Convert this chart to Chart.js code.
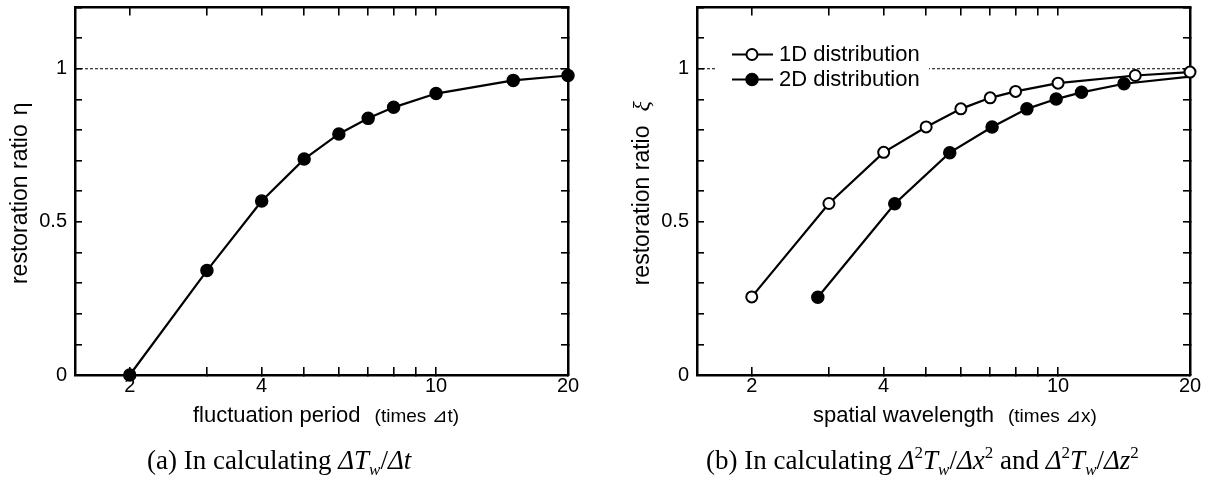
<!DOCTYPE html>
<html><head><meta charset="utf-8">
<script src="https://cdn.jsdelivr.net/npm/chart.js@4.4.1/dist/chart.umd.min.js"></script>
<style>
html,body{margin:0;padding:0;background:#fff;}
#wrap{position:relative;width:1210px;height:479px;overflow:hidden;background:#fff;}
.pane{position:absolute;top:0;width:605px;height:479px;}
.cap{position:absolute;top:444px;font-family:"Liberation Serif","Times New Roman",serif;font-size:27px;line-height:32px;color:#000;white-space:nowrap;}
.cap i{font-style:italic;}
.cap .sb{font-size:17px;position:relative;top:6px;}
.cap .sp{font-size:17px;position:relative;top:-11px;}
</style></head>
<body>
<div id="wrap">
<div class="pane" style="left:0"><canvas id="chartA"></canvas></div>
<div class="pane" style="left:605px"><canvas id="chartB"></canvas></div>
<div class="cap" style="left:147px">(a) In calculating <i>ΔT</i><span class="sb"><i>w</i></span>/<i>Δt</i></div>
<div class="cap" style="left:706px">(b) In calculating <i>Δ</i><span class="sp">2</span><i>T</i><span class="sb"><i>w</i></span>/<i>Δx</i><span class="sp">2</span> and <i>Δ</i><span class="sp">2</span><i>T</i><span class="sb"><i>w</i></span>/<i>Δz</i><span class="sp">2</span></div>
</div>
<script>
// ---------- data ----------
const periodA = [2, 3, 4, 5, 6, 7, 8, 10, 15, 20];
const etaA = [0.000, 0.341, 0.568, 0.705, 0.787, 0.838, 0.874, 0.919, 0.962, 0.978];

const wavelength1D = [2, 3, 4, 5, 6, 7, 8, 10, 15, 20];
const xi1D = [0.255, 0.560, 0.727, 0.810, 0.869, 0.905, 0.926, 0.953, 0.978, 0.989];
const wavelength2D = [2.83, 4.24, 5.66, 7.07, 8.49, 9.90, 11.31, 14.14, 21.21];
const xi2D = [0.254, 0.559, 0.726, 0.810, 0.869, 0.901, 0.923, 0.951, 0.978];

const refX = [1.5, 20];
const refY = [1, 1];

const xTickValues = [2, 3, 4, 5, 6, 7, 8, 9, 10, 20];
const xTickLabels = ['2', '', '4', '', '', '', '', '', '10', '20'];
const yTickValues = [0, 0.1, 0.2, 0.3, 0.4, 0.5, 0.6, 0.7, 0.8, 0.9, 1.0, 1.1, 1.2];
const yTickLabels = ['0', '', '', '', '', '0.5', '', '', '', '', '1', '', ''];

const legendLabels = ['1D distribution', '2D distribution'];
const xTitleA = ['fluctuation period', '(times \u22BFt)'];
const xTitleB = ['spatial wavelength', '(times \u22BFx)'];
const yTitleA = ['restoration ratio', '\u03B7'];
const yTitleB = ['restoration ratio', '\u03BE'];

// ---------- helpers ----------
const SANS = '"Liberation Sans", Arial, "DejaVu Sans", sans-serif';
const pts = (xs, ys) => xs.map((x, i) => ({x: x, y: ys[i]}));

function zeroPad(s) { s.paddingTop = 0; s.paddingBottom = 0; s.paddingLeft = 0; s.paddingRight = 0; }

function makeScales(yWidth) {
  const tickFont = {family: SANS, size: 20};
  const border = {display: true, color: '#000', width: 2.5};
  const gridX = {display: true, drawOnChartArea: false, drawTicks: true, tickLength: -8, color: '#000', lineWidth: 1.6};
  const gridY = {display: true, drawOnChartArea: false, drawTicks: true, tickLength: -7, color: '#000', lineWidth: 1.6};
  const xBuild = s => { s.ticks = xTickValues.map(v => ({value: v})); };
  const yBuild = s => { s.ticks = yTickValues.map(v => ({value: v})); };
  return {
    x: {type: 'logarithmic', position: 'bottom', min: 1.5, max: 20, display: true,
        border: border, grid: gridX, afterBuildTicks: xBuild,
        ticks: {display: true, color: '#000', font: tickFont, padding: 7, maxRotation: 0, minRotation: 0, autoSkip: false,
                callback: (v, i) => xTickLabels[i]},
        afterFit: s => { s.height = 30; zeroPad(s); }},
    x2: {type: 'logarithmic', position: 'top', min: 1.5, max: 20, display: true,
        border: border, grid: gridX, afterBuildTicks: xBuild,
        ticks: {display: false},
        afterFit: s => { s.height = 6; zeroPad(s); }},
    y: {type: 'linear', position: 'left', min: 0, max: 1.2, display: true,
        border: border, grid: gridY, afterBuildTicks: yBuild,
        ticks: {display: true, color: '#000', font: tickFont, padding: 15, autoSkip: false,
                callback: (v, i) => yTickLabels[i]},
        afterFit: s => { s.width = yWidth; zeroPad(s); }},
    y2: {type: 'linear', position: 'right', min: 0, max: 1.2, display: true,
        border: border, grid: gridY, afterBuildTicks: yBuild,
        ticks: {display: false},
        afterFit: s => { s.width = 10; zeroPad(s); }}
  };
}

const axisTitles = {
  id: 'axisTitles',
  afterDraw(chart, args, o) {
    const {ctx, chartArea: a} = chart;
    ctx.save();
    ctx.fillStyle = '#000';
    ctx.textBaseline = 'middle';
    ctx.textAlign = 'left';
    ctx.font = '22px ' + SANS;
    const w1 = ctx.measureText(o.x[0]).width;
    const x0 = a.left + o.xStart;
    const y0 = a.bottom + 41;
    ctx.fillText(o.x[0], x0, y0);
    ctx.font = '19px ' + SANS;
    ctx.fillText(o.x[1], x0 + w1 + o.gap, y0 + 1);

    ctx.translate(a.left - 54, (a.top + a.bottom) / 2 + 2);
    ctx.rotate(-Math.PI / 2);
    ctx.font = '23px ' + SANS;
    const m = ctx.measureText(o.y[0]).width;
    ctx.font = o.greekFont;
    const g = ctx.measureText(o.y[1]).width;
    const sx = -(m + o.ygap + g) / 2;
    ctx.font = '23px ' + SANS;
    ctx.fillText(o.y[0], sx, 0);
    ctx.font = o.greekFont;
    ctx.fillText(o.y[1], sx + m + o.ygap, 0);
    ctx.restore();
  }
};

const innerLegend = {
  id: 'innerLegend',
  afterDatasetsDraw(chart, args, o) {
    if (!o.show) return;
    const {ctx, chartArea: a} = chart;
    ctx.save();
    ctx.fillStyle = '#fff';
    ctx.fillRect(a.left + 20, a.top + 32, 212, 56);
    let row = 0;
    chart.data.datasets.forEach(ds => {
      if (!ds.inLegend) return;
      const y = a.top + 47 + row * 25;
      ctx.strokeStyle = '#000';
      ctx.lineWidth = 2.2;
      ctx.beginPath();
      ctx.moveTo(a.left + 35, y);
      ctx.lineTo(a.left + 76, y);
      ctx.stroke();
      ctx.beginPath();
      ctx.arc(a.left + 55, y, ds.pointRadius, 0, Math.PI * 2);
      ctx.fillStyle = ds.pointBackgroundColor;
      ctx.fill();
      ctx.lineWidth = ds.pointBorderWidth;
      ctx.strokeStyle = ds.pointBorderColor;
      ctx.stroke();
      ctx.fillStyle = '#000';
      ctx.font = '22px ' + SANS;
      ctx.textBaseline = 'middle';
      ctx.textAlign = 'left';
      ctx.fillText(ds.label, a.left + 82, y);
      row++;
    });
    ctx.restore();
  }
};

const refDataset = {
  label: 'ref', borderColor: '#000', borderWidth: 1,
  borderDash: [3, 2], pointRadius: 0, fill: false, order: 10, inLegend: false, clip: 0
};

new Chart(document.getElementById('chartA'), {
  type: 'line',
  data: {datasets: [
    {label: 'eta', data: pts(periodA, etaA), borderColor: '#000', borderWidth: 2.2,
     pointRadius: 6, pointBorderWidth: 1.5, pointBackgroundColor: '#000', pointBorderColor: '#000',
     fill: false, tension: 0, clip: 10, order: 1},
    Object.assign({}, refDataset, {data: pts(refX, refY)})
  ]},
  options: {
    responsive: true, maintainAspectRatio: false, animation: false, devicePixelRatio: 1,
    layout: {padding: {left: 0, right: 27, top: 0, bottom: 74}},
    scales: makeScales(75),
    plugins: {legend: {display: false}, tooltip: {enabled: false},
      axisTitles: {x: xTitleA, y: yTitleA, xStart: 118, gap: 14, ygap: 9, greekFont: '23px ' + SANS},
      innerLegend: {show: false}}
  },
  plugins: [axisTitles, innerLegend]
});

new Chart(document.getElementById('chartB'), {
  type: 'line',
  data: {datasets: [
    {label: legendLabels[0], data: pts(wavelength1D, xi1D), borderColor: '#000', borderWidth: 2.2,
     pointRadius: 5.5, pointBorderWidth: 2, pointBackgroundColor: '#fff', pointBorderColor: '#000',
     fill: false, tension: 0, clip: 10, order: 1, inLegend: true},
    {label: legendLabels[1], data: pts(wavelength2D, xi2D), borderColor: '#000', borderWidth: 2.2,
     pointRadius: 6, pointBorderWidth: 1.5, pointBackgroundColor: '#000', pointBorderColor: '#000',
     fill: false, tension: 0, clip: {left: 10, top: 10, right: 0, bottom: 10}, order: 2, inLegend: true},
    Object.assign({}, refDataset, {data: pts(refX, refY)})
  ]},
  options: {
    responsive: true, maintainAspectRatio: false, animation: false, devicePixelRatio: 1,
    layout: {padding: {left: 0, right: 10, top: 0, bottom: 74}},
    scales: makeScales(92),
    plugins: {legend: {display: false}, tooltip: {enabled: false},
      axisTitles: {x: xTitleB, y: yTitleB, xStart: 116, gap: 14, ygap: 14, greekFont: 'italic 24px "Liberation Serif", "Times New Roman", serif'},
      innerLegend: {show: true}}
  },
  plugins: [axisTitles, innerLegend]
});
</script>
</body></html>
